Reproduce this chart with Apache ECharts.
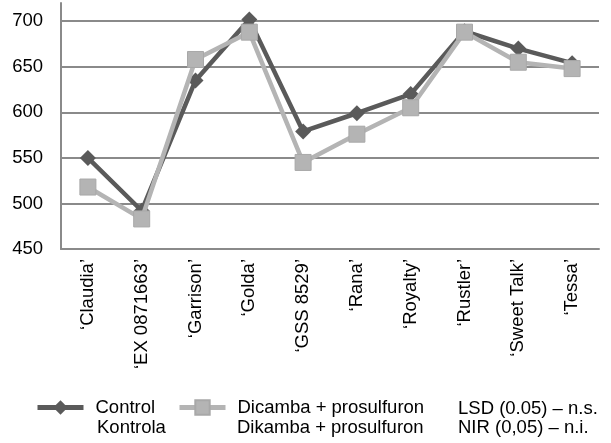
<!DOCTYPE html>
<html>
<head>
<meta charset="utf-8">
<script src="https://cdn.jsdelivr.net/npm/echarts@6/dist/echarts.min.js"></script>
<style>
html,body{margin:0;padding:0;background:#fff;}
#chart{width:611px;height:443px;}
</style>
</head>
<body>
<div id="chart"></div>
<script>
var categories = ['\u2018Claudia\u2019','\u2018EX 0871663\u2019','\u2018Garrison\u2019','\u2018Golda\u2019','\u2018GSS 8529\u2019','\u2018Rana\u2019','\u2018Royalty\u2019','\u2018Rustler\u2019','\u2018Sweet Talk\u2019','\u2018Tessa\u2019'];
var controlValues = [550, 492, 635, 702, 579, 599, 620, 689, 670, 654];
var dicambaValues = [518, 483, 658, 688, 545, 576, 605, 688, 655, 648];
var seriesNames = ['Control', 'Dicamba + prosulfuron'];
var seriesNamesPl = ['Kontrola', 'Dikamba + prosulfuron'];
var noteLines = ['LSD (0.05) \u2013 n.s.', 'NIR (0,05) \u2013 n.i.'];

var FONT = '"Liberation Sans", Arial, sans-serif';
var axisGray = '#8a8a8a';
var darkGray = '#5a5a5a';
var lightGray = '#b4b4b4';

var chart = echarts.init(document.getElementById('chart'), null, {renderer: 'canvas'});
var legendText = {fontFamily: FONT, fontSize: 18.5, color: '#000', lineHeight: 18, padding: [0, 0, 0, 7]};
chart.setOption({
  animation: false,
  backgroundColor: '#fff',
  grid: {left: 61, right: 12, top: 3, bottom: 194, containLabel: false},
  xAxis: {
    type: 'category',
    data: categories,
    boundaryGap: true,
    axisLine: {lineStyle: {color: axisGray, width: 2}},
    axisTick: {show: false},
    axisLabel: {rotate: 90, margin: 10, interval: 0, fontFamily: FONT, fontSize: 18.5, color: '#000'}
  },
  yAxis: {
    type: 'value',
    min: 450, max: 720, interval: 50,
    axisLine: {show: true, lineStyle: {color: axisGray, width: 2}},
    axisTick: {show: false},
    axisLabel: {margin: 18, showMaxLabel: false, fontFamily: FONT, fontSize: 18.5, color: '#000',
      formatter: function (v) { return v % 50 === 0 ? String(v) : ''; }},
    splitLine: {show: true, showMaxLine: false, lineStyle: {color: axisGray, width: 2}}
  },
  legend: [
    {data: [seriesNames[0]], left: 35, top: 398, padding: 0, itemWidth: 46, itemHeight: 18,
      lineStyle: {width: 5}, textStyle: legendText},
    {data: [seriesNames[1]], left: 177, top: 398, padding: 0, itemWidth: 46, itemHeight: 18,
      lineStyle: {width: 5}, textStyle: legendText}
  ],
  graphic: [
    {type: 'text', left: 97, top: 418, style: {text: seriesNamesPl[0], font: '18.5px ' + FONT, fill: '#000'}},
    {type: 'text', left: 237, top: 418, style: {text: seriesNamesPl[1], font: '18.5px ' + FONT, fill: '#000'}},
    {type: 'text', left: 458, top: 399, style: {text: noteLines[0], font: '18.5px ' + FONT, fill: '#000'}},
    {type: 'text', left: 458, top: 418, style: {text: noteLines[1], font: '18.5px ' + FONT, fill: '#000'}}
  ],
  series: [
    {
      name: seriesNames[0], type: 'line', data: controlValues,
      symbol: 'diamond', symbolSize: 16,
      lineStyle: {color: darkGray, width: 4.5},
      itemStyle: {color: darkGray, borderWidth: 0},
      z: 2
    },
    {
      name: seriesNames[1], type: 'line', data: dicambaValues,
      symbol: 'rect', symbolSize: 16,
      lineStyle: {color: lightGray, width: 4.5},
      itemStyle: {color: lightGray, borderColor: '#a8a8a8', borderWidth: 1},
      z: 3
    }
  ]
});
</script>
</body>
</html>
